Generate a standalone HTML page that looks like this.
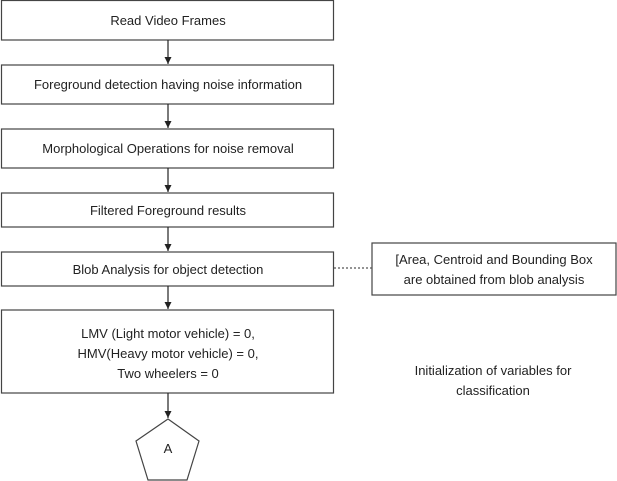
<!DOCTYPE html>
<html><head><meta charset="utf-8"><style>
html,body{margin:0;padding:0;background:#fff;}
body{width:617px;height:481px;overflow:hidden;position:relative;font-family:"Liberation Sans",sans-serif;font-size:13px;color:#222;}
svg{position:absolute;left:0;top:0;}
</style></head><body>
<svg width="617" height="481" viewBox="0 0 617 481" xmlns="http://www.w3.org/2000/svg">
<defs><marker id="a" markerWidth="8" markerHeight="8" refX="7" refY="4" orient="auto" markerUnits="userSpaceOnUse"><path d="M0,0.5 L7,4 L0,7.5 z" fill="#222"/></marker></defs>
<g fill="#fff" stroke="#444" stroke-width="1.2">
<rect x="1.5" y="0.5" width="332" height="39.5"/>
<rect x="1.5" y="65" width="332" height="39"/>
<rect x="1.5" y="129" width="332" height="39"/>
<rect x="1.5" y="193" width="332" height="34"/>
<rect x="1.5" y="252" width="332" height="34"/>
<rect x="1.5" y="310" width="332" height="83"/>
<rect x="372" y="243" width="244" height="52"/>
<polygon points="168,419 199,441 187,480 148,480 136,441"/>
</g>
<g stroke="#222" stroke-width="1.2">
<line x1="168" y1="40" x2="168" y2="64" marker-end="url(#a)"/>
<line x1="168" y1="104" x2="168" y2="128" marker-end="url(#a)"/>
<line x1="168" y1="168" x2="168" y2="192" marker-end="url(#a)"/>
<line x1="168" y1="227" x2="168" y2="251" marker-end="url(#a)"/>
<line x1="168" y1="286" x2="168" y2="309" marker-end="url(#a)"/>
<line x1="168" y1="393" x2="168" y2="418" marker-end="url(#a)"/>
<line x1="334" y1="268" x2="372" y2="268" stroke-dasharray="2,2" stroke="#555"/>
</g>
<g text-anchor="middle" font-family="Liberation Sans, sans-serif" font-size="13" fill="#222">
<text x="168" y="25">Read Video Frames</text>
<text x="168" y="89">Foreground detection having noise information</text>
<text x="168" y="153">Morphological Operations for noise removal</text>
<text x="168" y="215">Filtered Foreground results</text>
<text x="168" y="274">Blob Analysis for object detection</text>
<text x="168" y="338">LMV (Light motor vehicle) = 0,</text>
<text x="168" y="358">HMV(Heavy motor vehicle) = 0,</text>
<text x="168" y="378">Two wheelers = 0</text>
<text x="494" y="264">[Area, Centroid and Bounding Box</text>
<text x="494" y="284">are obtained from blob analysis</text>
<text x="493" y="375">Initialization of variables for</text>
<text x="493" y="395">classification</text>
<text x="168" y="453">A</text>
</g>
</svg>
</body></html>
